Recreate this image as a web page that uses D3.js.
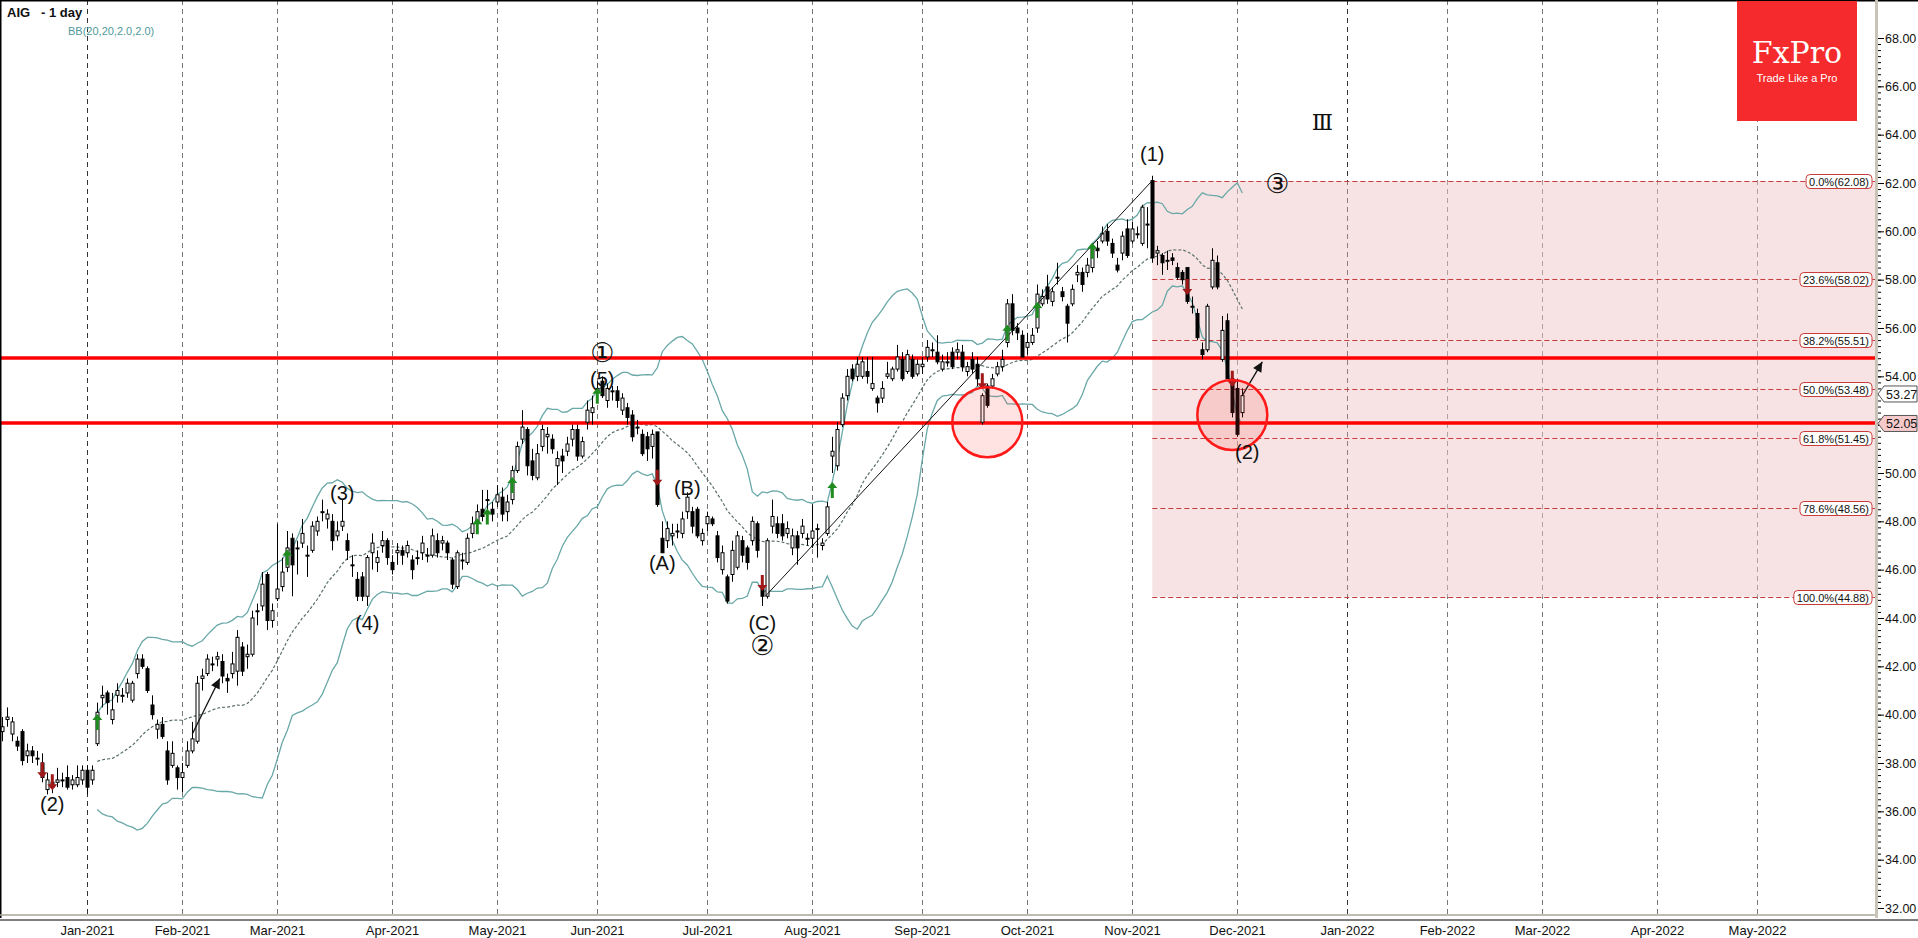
<!DOCTYPE html>
<html><head><meta charset="utf-8">
<script src="https://cdn.jsdelivr.net/npm/d3@7"></script>
<style>body{margin:0;background:#fff}svg{display:block;font-family:"Liberation Sans",Arial,sans-serif}</style>
</head><body><div id="chart"></div>
<script>
var W = 1918, H = 938;
var plotRight = 1875, plotBottom = 918;

// daily candles from 2020-12-08
var opens = [39.3,39.8,39.2,38.9,39.3,38.3,38.5,38.2,38.0,36.9,37.2,37.2,37.3,37.4,37.1,37.1,37.3,37.7,37.3,38.8,
40.7,40.9,39.8,40.8,40.8,40.9,40.6,41.7,42.3,41.9,40.4,39.4,39.6,38.5,37.9,37.8,37.4,37.9,38.5,38.9,
41.5,41.7,42.1,42.3,42.2,41.5,41.7,41.8,42.8,42.4,42.5,44.3,44.5,45.8,43.9,44.8,45.3,46.1,47.3,46.9,
47.1,46.6,46.8,47.6,48.4,48.1,48.0,47.4,47.8,47.2,46.2,45.6,45.7,44.9,46.7,46.3,47.0,47.2,46.3,46.7,
46.8,46.7,46.4,46.5,46.7,46.6,46.6,47.2,47.1,47.1,46.4,45.3,46.4,46.3,47.5,48.0,48.5,48.9,48.5,48.8,
49.0,48.4,48.9,50.1,51.4,51.8,50.5,49.8,51.1,51.5,51.4,50.3,50.7,50.9,51.4,51.8,50.7,52.1,52.5,53.4,
53.8,53.0,53.4,53.4,52.6,52.7,52.4,51.9,51.6,51.5,51.1,51.7,47.3,47.2,47.4,47.6,47.5,48.4,48.4,48.5,
47.2,47.9,48.1,47.4,46.0,45.7,45.8,46.1,47.2,46.9,47.2,47.9,45.2,44.9,47.8,47.9,47.9,47.5,46.9,47.4,
47.5,47.3,47.3,47.7,47.0,47.5,50.7,50.3,52.0,53.2,54.3,54.0,54.0,54.2,53.5,53.1,53.1,54.0,53.9,54.3,
54.7,54.2,54.7,54.1,54.4,54.8,55.1,55.0,54.3,54.6,55.0,55.0,55.0,54.2,54.7,54.5,52.1,53.6,53.6,54.1,
54.4,55.4,57.0,56.0,55.7,55.2,55.4,56.0,57.0,57.7,57.1,58.1,57.5,56.9,57.0,58.2,58.3,58.3,58.5,59.3,
59.6,60.0,59.5,58.6,59.1,60.1,59.6,59.9,59.5,60.3,62.1,59.1,59.0,58.8,58.9,58.5,58.3,58.5,56.9,56.6,
55.1,55.1,57.7,58.7,54.7,56.3,53.9,53.5,52.5];
var closes = [39.5,39.9,39.7,38.7,38.1,38.5,38.3,38.2,37.4,37.3,37.0,37.3,37.3,37.0,37.3,37.4,37.7,37.0,37.7,40.1,
40.8,40.5,40.2,41.0,40.8,41.3,41.3,42.3,42.0,41.0,40.0,39.6,39.1,37.3,38.4,37.4,37.6,38.5,39.0,41.3,
41.6,42.3,42.1,42.4,41.6,41.4,42.1,43.2,41.8,42.5,44.0,44.3,45.4,43.9,44.3,45.2,45.9,46.9,46.2,46.9,
47.5,46.6,47.8,48.0,48.4,48.3,47.2,47.6,48.0,46.8,46.2,44.9,44.9,46.5,47.1,46.5,47.2,46.5,46.0,46.8,
46.6,47.0,46.0,46.5,47.1,46.6,47.4,46.7,47.2,46.7,45.4,46.7,46.4,47.3,47.9,48.4,48.2,48.9,48.3,49.1,
48.3,48.8,50.1,51.1,51.9,50.3,49.9,50.8,51.8,51.6,51.0,50.6,50.5,51.2,51.8,50.7,51.3,52.6,52.7,53.5,
53.2,53.5,53.4,53.0,53.1,52.3,51.5,51.9,50.8,51.0,51.6,48.7,46.7,47.7,47.5,47.6,48.1,49.0,47.8,47.4,
47.5,48.2,47.9,46.5,46.7,44.7,46.8,47.4,46.6,46.3,48.0,46.8,44.9,47.2,48.2,47.5,47.4,47.7,47.4,46.9,
47.8,47.3,47.6,47.7,47.1,48.6,50.9,51.8,53.1,54.0,53.9,54.5,54.6,54.0,53.7,52.9,53.5,54.1,54.3,54.8,
53.9,54.9,54.0,54.5,54.5,55.2,55.1,54.6,54.6,54.6,54.4,55.1,54.4,54.4,54.3,53.9,53.2,52.8,53.9,54.4,
54.7,57.0,55.9,55.8,54.8,55.4,55.7,57.4,57.3,57.2,57.5,58.1,57.3,56.2,57.6,58.3,57.8,58.6,59.3,59.2,
59.9,59.6,59.1,58.4,59.8,59.0,60.1,59.9,61.0,60.3,58.9,59.2,58.7,58.8,58.8,58.1,58.0,57.1,56.9,55.6,
54.9,56.9,58.8,57.7,55.9,53.9,52.5,51.6,53.2];
var highs = [39.9,40.3,39.9,39.1,39.4,38.8,38.7,38.5,38.4,37.6,37.4,37.8,37.6,37.9,37.5,37.9,37.9,37.9,37.9,40.5,
41.2,41.0,40.9,41.3,41.1,41.5,41.4,42.5,42.5,42.0,40.8,39.8,39.9,38.9,38.9,37.9,38.0,38.9,39.7,41.6,
41.9,42.5,42.4,42.6,42.5,41.7,42.6,43.5,43.0,42.9,44.3,44.6,45.9,45.9,44.6,47.9,46.5,47.6,47.5,47.2,
48.1,47.0,48.0,48.2,48.9,48.5,48.3,48.0,48.9,47.5,46.6,45.9,45.9,46.6,47.5,46.8,47.6,47.3,46.6,47.1,
47.0,47.2,46.6,46.8,47.4,46.9,47.7,47.5,47.4,47.2,46.5,46.8,46.7,47.5,48.2,48.7,49.3,49.3,48.8,49.5,
49.4,49.1,50.3,51.3,52.6,51.9,51.0,51.2,52.0,51.9,51.6,50.9,51.0,51.5,52.0,52.0,51.5,53.0,53.2,53.8,
54.0,53.7,53.6,53.6,53.3,52.9,52.6,52.2,51.8,51.7,51.8,51.7,48.0,48.0,47.9,47.9,48.4,49.2,48.6,48.6,
47.7,48.4,48.2,47.6,47.0,45.8,47.2,47.6,47.4,47.0,48.2,48.0,45.5,47.3,48.9,48.2,48.3,48.0,47.7,47.6,
48.1,47.5,48.7,47.9,47.3,48.8,51.5,52.1,53.3,54.3,54.5,54.8,54.8,54.8,54.8,53.2,53.8,54.6,54.4,55.3,
55.0,55.1,54.9,54.7,54.8,55.5,55.4,55.7,54.9,55.0,55.2,55.4,55.3,54.6,55.0,54.8,53.3,53.7,54.1,54.6,
55.1,57.2,57.4,56.2,55.9,55.8,56.0,57.8,57.6,58.2,57.7,58.7,57.7,57.0,57.8,58.6,58.5,58.9,59.5,59.6,
60.2,60.3,59.7,58.9,60.0,60.5,60.4,60.2,61.1,61.0,62.3,59.4,59.1,59.2,59.1,58.7,58.4,58.5,57.3,56.8,
55.4,57.0,59.3,59.0,56.5,56.6,54.2,53.9,53.5];
var lows = [38.9,39.5,38.9,38.5,37.9,38.0,38.0,37.9,37.2,36.7,36.75,37.0,37.0,36.9,36.9,37.0,37.1,36.7,37.1,38.7,
40.3,40.0,39.6,40.5,40.5,40.7,40.5,41.5,41.9,40.9,39.8,39.0,39.0,37.1,37.8,36.9,36.8,37.8,38.4,38.8,
41.0,41.6,41.8,42.0,41.3,40.9,41.5,41.2,41.6,41.9,42.4,43.7,44.3,43.5,43.6,44.7,45.1,45.9,44.9,45.8,
46.9,45.7,46.7,47.4,48.0,47.7,46.8,47.2,47.6,46.4,45.7,44.7,44.7,44.5,46.0,45.9,46.7,46.2,45.8,46.2,
46.2,46.5,45.6,46.2,46.4,46.3,46.5,46.5,46.8,46.4,45.2,45.2,46.0,46.2,47.3,47.8,48.0,48.5,48.0,48.6,
48.0,48.0,48.7,50.0,51.2,49.9,49.7,49.7,50.9,50.8,50.8,49.5,50.0,50.7,51.1,50.5,50.6,51.8,52.0,53.2,
53.1,52.7,53.0,52.7,52.4,52.0,51.3,51.6,50.7,50.5,50.6,48.6,46.7,46.9,47.0,47.3,47.3,48.1,47.5,47.3,
47.0,47.6,47.8,46.3,45.8,44.6,45.5,46.0,46.3,46.0,47.0,46.5,44.5,44.8,47.5,47.3,47.2,47.3,46.6,46.2,
47.3,47.0,46.9,46.5,46.8,47.4,50.0,50.1,51.9,53.0,53.8,53.8,53.9,53.7,53.4,52.5,52.9,53.9,53.8,54.2,
53.8,54.1,53.9,54.0,54.1,54.6,54.8,54.5,54.2,54.4,54.3,54.7,54.2,54.0,54.1,53.6,52.0,52.7,53.5,54.0,
54.2,55.2,55.7,55.5,54.8,54.9,55.3,55.8,56.9,57.0,56.9,57.8,57.1,55.4,56.9,57.9,57.5,58.1,58.3,58.9,
59.5,59.4,58.9,58.3,58.8,58.9,59.5,59.7,59.4,59.3,58.7,58.6,58.2,58.4,58.6,58.0,57.8,57.0,56.6,55.5,
54.7,55.0,57.6,57.6,54.6,53.9,52.3,51.5,52.3];

var holidays = ["2020-12-25","2021-01-01","2021-01-18","2021-02-15","2021-04-02","2021-05-31","2021-07-05",
  "2021-09-06","2021-11-25","2021-12-24","2022-01-17","2022-02-21","2022-04-15"];
var monthTicks = ["2021-01","2021-02","2021-03","2021-04","2021-05","2021-06","2021-07","2021-08","2021-09",
  "2021-10","2021-11","2021-12","2022-01","2022-02","2022-03","2022-04","2022-05"];

var fibPct    = ["0.0","23.6","38.2","50.0","61.8","78.6","100.0"];
var fibPrice  = [62.08,58.02,55.51,53.48,51.45,48.56,44.88];
var keyLevels = [54.76,52.07];

var upArrows   = [[19,39.7],[57,46.5],[95,47.8],[97,48.2],[102,49.5],[119,53.2],[166,49.3],[201,55.8],[207,56.75],[218,59.2]];
var downArrows = [[8,37.7],[10,37.2],[131,49.8],[152,45.45],[196,53.8],[237,57.7],[246,53.9]];
var circles    = [[197,52.1],[246,52.4]];
var waveLabels = [
  ["(2)",10,36.0],["(3)",68,48.9],["(4)",73,43.5],["①",120,54.6],["(5)",120,53.6],
  ["(A)",132,46.0],["(B)",137,49.1],["(C)",152,43.5],["②",152,42.45],
  ["(1)",230,62.9],["③",255,61.6],["Ⅲ",264,64.2],["(2)",249,50.6]
];
var circled = ["①","②","③"];

// trading days
var fmt = d3.timeFormat("%Y-%m-%d");
var days = d3.timeDay.range(new Date(2020,11,8), new Date(2022,5,1)).filter(function(d){
  var w = d.getDay();
  return w !== 0 && w !== 6 && holidays.indexOf(fmt(d)) < 0;
});

var x = d3.scaleLinear().domain([0,1]).range([2.3,7.3]);
var y = d3.scaleLinear().domain([32,68]).range([908,38]);

var svg = d3.select("#chart").append("svg").attr("width",W).attr("height",H);

// month grid
var mfmt = d3.timeFormat("%Y-%m");
var monthIdx = monthTicks.map(function(m){
  for (var i=0;i<days.length;i++) if (mfmt(days[i])===m) return i;
});
var grid = svg.append("g");
monthIdx.forEach(function(i,k){
  var xx = Math.round(x(i))+0.5;
  grid.append("line").attr("x1",xx).attr("x2",xx).attr("y1",0).attr("y2",plotBottom)
    .attr("stroke", k===0||k===12 ? "#333" : "#777").attr("stroke-dasharray","5,4").attr("stroke-width",1);
  svg.append("text").attr("x",xx).attr("y",935).attr("text-anchor","middle")
    .attr("font-size",13).attr("fill","#111").text(d3.timeFormat("%b-%Y")(days[i]));
});

// fib zone
var fx0 = x(230);
svg.append("rect").attr("x",fx0).attr("y",y(fibPrice[0])).attr("width",plotRight-fx0)
  .attr("height",y(fibPrice[6])-y(fibPrice[0])).attr("fill","#f0c8c8").attr("opacity",0.5);
fibPrice.forEach(function(p,k){
  var yy = Math.round(y(p))+0.5;
  svg.append("line").attr("x1",fx0).attr("x2",plotRight).attr("y1",yy).attr("y2",yy)
    .attr("stroke","#c83c3c").attr("stroke-dasharray","5,3");
  var t = svg.append("text").attr("x",plotRight-6).attr("y",yy+4).attr("text-anchor","end")
    .attr("font-size",11).attr("fill","#111").text(fibPct[k]+"%("+p.toFixed(2)+")");
  var b = t.node().getBBox();
  svg.insert("rect","text:last-of-type").attr("x",b.x-3).attr("y",b.y-1).attr("width",b.width+6)
    .attr("height",b.height+2).attr("rx",4).attr("fill","#fff").attr("stroke","#c83c3c");
  t.raise();
});

// bollinger bands 20,2
var mid=[], up=[], dn=[];
for (var i=19;i<closes.length;i++){
  var s = closes.slice(i-19,i+1), m = d3.mean(s);
  var sd = Math.sqrt(d3.mean(s,function(v){return (v-m)*(v-m);}));
  mid.push([i,m]); up.push([i,m+2*sd]); dn.push([i,m-2*sd]);
}
var ln = d3.line().x(function(d){return x(d[0]);}).y(function(d){return y(d[1]);});
svg.append("path").attr("d",ln(up)).attr("fill","none").attr("stroke","#6aa8a8").attr("stroke-width",1.3);
svg.append("path").attr("d",ln(dn)).attr("fill","none").attr("stroke","#6aa8a8").attr("stroke-width",1.3);
svg.append("path").attr("d",ln(mid)).attr("fill","none").attr("stroke","#5a6e6e").attr("stroke-width",1.2).attr("stroke-dasharray","3,2");

// key levels
keyLevels.forEach(function(p){
  svg.append("line").attr("x1",0).attr("x2",plotRight).attr("y1",y(p)).attr("y2",y(p))
    .attr("stroke","#ff0000").attr("stroke-width",3.5);
});

// candles
var cg = svg.append("g");
closes.forEach(function(c,i){
  var o = opens[i], xx = Math.round(x(i))+0.5;
  cg.append("line").attr("x1",xx).attr("x2",xx).attr("y1",y(highs[i])).attr("y2",y(lows[i])).attr("stroke","#000");
  var top = y(Math.max(o,c)), h = Math.max(1, y(Math.min(o,c))-top);
  cg.append("rect").attr("x",xx-1.5).attr("y",top).attr("width",3).attr("height",h)
    .attr("fill", c>=o ? "#fff" : "#000").attr("stroke","#000").attr("stroke-width",1);
});

// trend lines
svg.append("line").attr("x1",x(152.6)).attr("y1",y(44.9)).attr("x2",x(230)).attr("y2",y(62.1)).attr("stroke","#111");
function arrowLine(i0,p0,i1,p1){
  var x0=x(i0),y0=y(p0),x1=x(i1),y1=y(p1),a=Math.atan2(y1-y0,x1-x0);
  svg.append("line").attr("x1",x0).attr("y1",y0).attr("x2",x1).attr("y2",y1).attr("stroke","#111").attr("stroke-width",1.3);
  var L=11,w=0.45;
  svg.append("path").attr("d","M"+x1+","+y1+"L"+(x1-L*Math.cos(a-w))+","+(y1-L*Math.sin(a-w))+
    "L"+(x1-L*Math.cos(a+w))+","+(y1-L*Math.sin(a+w))+"Z").attr("fill","#111");
}
arrowLine(38,39.2,43.5,41.5);
arrowLine(248,53.2,252,54.6);

// signal arrows
function sig(d,color,dir){
  var cx=x(d[0]), cy=y(d[1]);
  var s=dir, p="M"+cx+","+(cy-8*s)+"L"+(cx+5)+","+(cy-2*s)+"L"+(cx+1.5)+","+(cy-2*s)+"L"+(cx+1.5)+","+(cy+8*s)+
    "L"+(cx-1.5)+","+(cy+8*s)+"L"+(cx-1.5)+","+(cy-2*s)+"L"+(cx-5)+","+(cy-2*s)+"Z";
  svg.append("path").attr("d",p).attr("fill",color);
}
upArrows.forEach(function(d){sig(d,"#1e8c1e",1);});
downArrows.forEach(function(d){sig(d,"#a01818",-1);});

// circles
circles.forEach(function(d){
  svg.append("circle").attr("cx",x(d[0])).attr("cy",y(d[1])).attr("r",35)
    .attr("fill","rgba(255,60,60,0.14)").attr("stroke","#ff1a1a").attr("stroke-width",2.5);
});

// wave labels
waveLabels.forEach(function(d){
  var isC = circled.indexOf(d[0]) >= 0, isR = d[0]==="Ⅲ";
  svg.append("text").attr("x",x(d[1])).attr("y",y(d[2])).attr("text-anchor","middle")
    .attr("font-size", isC ? 27 : isR ? 22 : 20)
    .attr("font-family", isC ? "DejaVu Sans" : isR ? "DejaVu Serif" : null)
    .attr("fill","#111").text(d[0]);
});

// frame
svg.append("line").attr("x1",0.5).attr("x2",0.5).attr("y1",0).attr("y2",plotBottom).attr("stroke","#000").attr("stroke-width",2);
svg.append("line").attr("x1",0).attr("x2",W).attr("y1",0.5).attr("y2",0.5).attr("stroke","#000").attr("stroke-width",2);
svg.append("line").attr("x1",0).attr("x2",plotRight).attr("y1",plotBottom-3).attr("y2",plotBottom-3).attr("stroke","#aaa69a").attr("stroke-width",1.5);
svg.append("line").attr("x1",0).attr("x2",W).attr("y1",plotBottom+2).attr("y2",plotBottom+2).attr("stroke","#000");
svg.append("rect").attr("x",plotRight).attr("y",0).attr("width",3).attr("height",plotBottom).attr("fill","#c8c4b8");

// price axis
var axis = d3.axisRight(y).tickValues(d3.range(32,68.01,2)).tickFormat(d3.format(".2f")).tickSize(6).tickPadding(1);
var ag = svg.append("g").attr("transform","translate("+(plotRight+3)+",0)").call(axis);
ag.select(".domain").remove();
ag.selectAll("text").attr("font-size",12.5).attr("fill","#111").attr("font-family","Liberation Sans");
svg.append("g").attr("transform","translate("+(plotRight+3)+",0)")
  .call(d3.axisRight(y).tickValues(d3.range(32,68.01,0.25)).tickFormat("").tickSize(3))
  .select(".domain").remove();

// price tags
function tag(p,fill){
  var yy=y(p), x0=plotRight+3;
  svg.append("path").attr("d","M"+x0+","+yy+"L"+(x0+6)+","+(yy-8)+"L"+(W-1)+","+(yy-8)+"L"+(W-1)+","+(yy+8)+"L"+(x0+6)+","+(yy+8)+"Z")
    .attr("fill",fill).attr("stroke","#555");
  svg.append("text").attr("x",x0+8).attr("y",yy+5).attr("font-size",12.5).attr("fill","#111").text(p.toFixed(2));
}
tag(53.27,"#fff");
tag(52.05,"#f6caca");

// header
svg.append("text").attr("x",7).attr("y",17).attr("font-size",13).attr("font-weight","bold").attr("fill","#111").attr("xml:space","preserve").text("AIG   - 1 day");
svg.append("text").attr("x",68).attr("y",35).attr("font-size",11).attr("fill","#4f9a9a").text("BB(20,20,2.0,2.0)");

// logo
svg.append("rect").attr("x",1737).attr("y",1).attr("width",120).attr("height",120).attr("fill","#f42a2d");
svg.append("text").attr("x",1797).attr("y",63).attr("text-anchor","middle").attr("font-family","DejaVu Serif,Liberation Serif")
  .attr("font-size",30).attr("fill","#fff").text("FxPro");
svg.append("text").attr("x",1797).attr("y",82).attr("text-anchor","middle").attr("font-size",11).attr("fill","#fff").text("Trade Like a Pro");
</script></body></html>
